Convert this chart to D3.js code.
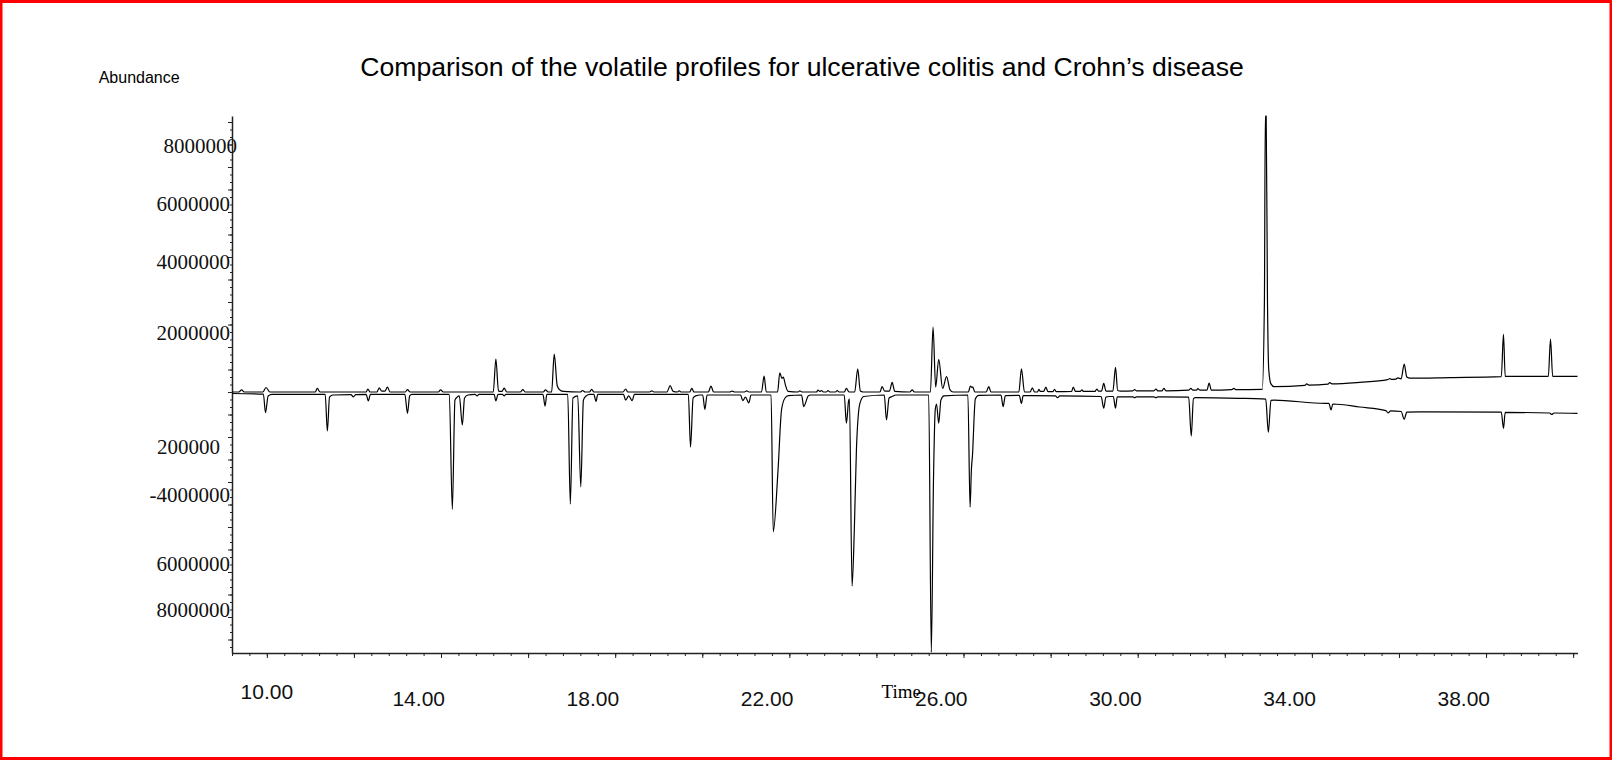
<!DOCTYPE html>
<html>
  <head>
    <meta charset="utf-8">
    <title>Volatile profiles: ulcerative colitis and Crohn's disease</title>
    <script src="https://d3js.org/d3.v7.min.js"></script>
    <style>
      body { margin: 0; background: #fff; }
      svg { display: block; }
      .trace { fill: none; stroke: #000; stroke-width: 1.2; stroke-linejoin: round; }
      .axis path, .axis line { stroke: #222; }
    </style>
  </head>
  <body>
    <div id="chart"></div>
    <script>
      // chromatogram vertices: [retention time (min), abundance]
      // upper trace = ulcerative colitis, lower (mirrored) trace = Crohn's disease
      const ucProfile = [
        [9.20, 0], [9.36, 0], [9.42, 70000], [9.48, 0],
        [9.91, 0], [9.98, 150000], [10.07, 0],
        [11.11, 0], [11.16, 120000], [11.22, 0],
        [12.28, 0], [12.32, 100000], [12.37, 0],
        [12.53, 0], [12.58, 140000], [12.64, 30000], [12.71, 30000], [12.77, 160000], [12.83, 0],
        [13.18, 0], [13.23, 80000], [13.29, 0],
        [13.94, 0], [13.99, 70000], [14.05, 0],
        [15.20, 0], [15.26, 1100000], [15.32, 30000], [15.40, 20000], [15.45, 130000], [15.51, 0],
        [15.82, 0], [15.88, 80000], [15.93, 0],
        [16.35, 0], [16.40, 70000], [16.46, 0],
        [16.54, 0], [16.60, 1260000], [16.67, 200000], [16.73, 70000], [16.82, 20000],
        [17.20, 0], [17.25, 50000], [17.31, 0],
        [17.41, 0], [17.46, 90000], [17.51, 0],
        [18.18, 0], [18.24, 100000], [18.29, 0],
        [18.79, 0], [18.84, 40000], [18.89, 0],
        [19.19, 0], [19.26, 210000], [19.33, 20000], [19.43, 0], [19.47, 40000], [19.51, 0],
        [19.71, 0], [19.76, 120000], [19.81, 0],
        [20.14, 0], [20.20, 200000], [20.26, 0],
        [20.63, 0], [20.69, 30000], [20.74, 0],
        [20.97, 0], [21.02, 40000], [21.07, 0],
        [21.36, 0], [21.42, 530000], [21.47, 0],
        [21.73, 0], [21.78, 640000], [21.83, 450000], [21.86, 500000], [21.91, 230000], [21.97, 20000],
        [22.20, 0], [22.24, 40000], [22.29, 0],
        [22.62, 0], [22.66, 60000], [22.70, 20000], [22.74, 50000], [22.78, 0],
        [22.85, 0], [22.89, 50000], [22.93, 0],
        [23.06, 0], [23.10, 50000], [23.14, 0],
        [23.26, 0], [23.31, 120000], [23.37, 0],
        [23.50, 0], [23.57, 770000], [23.63, 30000], [23.69, 0],
        [24.08, 0], [24.13, 180000], [24.19, 30000], [24.30, 30000], [24.36, 320000], [24.42, 20000],
        [24.77, 0], [24.82, 70000], [24.87, 0],
        [25.24, 0], [25.30, 2160000], [25.36, 160000], [25.43, 1090000], [25.52, 120000], [25.61, 510000], [25.69, 70000], [25.76, 0],
        [26.11, 0], [26.16, 200000], [26.19, 150000], [26.21, 170000], [26.26, 0],
        [26.52, 0], [26.58, 180000], [26.63, 0],
        [27.27, 0], [27.33, 770000], [27.40, 0],
        [27.53, 0], [27.58, 140000], [27.63, 0],
        [27.70, 0], [27.73, 90000], [27.76, 20000], [27.84, 20000], [27.89, 160000], [27.94, 10000],
        [28.05, 10000], [28.09, 90000], [28.13, 10000],
        [28.48, 20000], [28.52, 160000], [28.57, 20000], [28.68, 20000], [28.72, 70000], [28.75, 20000],
        [29.02, 20000], [29.06, 100000], [29.10, 30000], [29.17, 30000], [29.22, 290000], [29.27, 30000],
        [29.43, 30000], [29.49, 820000], [29.54, 50000], [29.61, 30000],
        [29.89, 40000], [29.93, 80000], [29.97, 40000],
        [30.37, 40000], [30.42, 100000], [30.46, 40000], [30.56, 40000], [30.60, 120000], [30.65, 40000],
        [31.17, 60000], [31.22, 120000], [31.27, 60000], [31.35, 60000], [31.38, 110000], [31.43, 60000],
        [31.59, 60000], [31.64, 300000], [31.69, 60000],
        [32.16, 80000], [32.21, 120000], [32.25, 80000],
        [32.86, 90000], [32.91, 3070000], [32.93, 9200000], [32.95, 9200000], [32.98, 3070000], [33.01, 730000], [33.06, 270000], [33.13, 180000],
        [33.84, 220000], [33.88, 270000], [33.93, 230000],
        [34.37, 260000], [34.41, 310000], [34.46, 270000],
        [35.10, 320000],
        [35.74, 410000], [35.79, 450000], [35.83, 420000], [35.93, 430000], [35.97, 470000],
        [36.05, 440000], [36.12, 930000], [36.18, 500000], [36.25, 460000],
        [37.17, 480000],
        [38.35, 510000], [38.40, 1920000], [38.44, 520000],
        [39.43, 520000], [39.48, 1760000], [39.53, 520000],
        [40.10, 520000]
      ];
      const cdProfile = [
        [9.20, -50000], [9.92, -70000], [9.97, -690000], [10.03, -130000], [10.12, -80000],
        [11.34, -80000], [11.39, -1300000], [11.44, -170000], [11.52, -100000],
        [11.93, -90000], [11.99, -160000], [12.04, -90000],
        [12.28, -80000], [12.33, -300000], [12.38, -80000],
        [13.17, -80000], [13.23, -710000], [13.28, -130000], [13.33, -80000],
        [14.19, -80000], [14.26, -3910000], [14.32, -270000], [14.37, -170000], [14.42, -130000], [14.49, -1100000], [14.54, -200000], [14.62, -100000],
        [14.78, -80000], [14.83, -130000], [14.87, -80000],
        [15.22, -80000], [15.26, -300000], [15.31, -80000],
        [15.41, -80000], [15.45, -130000], [15.49, -80000],
        [16.34, -80000], [16.39, -470000], [16.43, -80000],
        [16.91, -80000], [16.97, -3740000], [17.03, -200000], [17.14, -130000], [17.21, -3160000], [17.27, -270000], [17.33, -130000], [17.42, -80000],
        [17.51, -80000], [17.56, -310000], [17.60, -80000],
        [18.19, -80000], [18.24, -270000], [18.31, -130000], [18.39, -290000], [18.44, -80000],
        [19.68, -80000], [19.73, -1840000], [19.79, -200000], [19.85, -130000], [19.95, -100000],
        [20.01, -100000], [20.06, -580000], [20.11, -100000],
        [20.88, -100000], [20.93, -290000], [20.99, -170000], [21.07, -360000], [21.12, -100000],
        [21.58, -100000], [21.63, -4660000], [21.74, -2600000], [21.82, -600000], [21.90, -200000], [21.98, -120000],
        [22.28, -100000], [22.33, -490000], [22.38, -330000], [22.43, -130000], [22.49, -100000],
        [23.26, -100000], [23.31, -1040000], [23.36, -300000], [23.38, -230000], [23.44, -6470000], [23.49, -4700000], [23.54, -1930000], [23.62, -380000], [23.71, -150000],
        [24.18, -100000], [24.23, -930000], [24.29, -200000], [24.36, -150000], [24.45, -100000],
        [25.20, -100000], [25.26, -8670000], [25.31, -2930000], [25.35, -600000], [25.38, -400000], [25.43, -1040000], [25.48, -270000], [25.55, -130000],
        [26.10, -100000], [26.15, -3840000], [26.18, -2600000], [26.21, -2000000], [26.24, -930000], [26.27, -230000], [26.35, -110000],
        [26.86, -100000], [26.91, -490000], [26.96, -120000],
        [27.28, -110000], [27.33, -380000], [27.37, -120000],
        [28.11, -130000], [28.16, -190000], [28.21, -130000],
        [29.16, -150000], [29.22, -540000], [29.27, -170000], [29.35, -150000], [29.44, -150000], [29.49, -540000], [29.53, -160000],
        [29.89, -160000], [29.93, -190000], [29.97, -160000],
        [30.37, -160000], [30.42, -190000], [30.46, -160000],
        [31.17, -170000], [31.23, -1470000], [31.28, -220000], [31.33, -190000],
        [32.34, -210000], [32.85, -230000], [32.94, -240000], [33.00, -1340000], [33.06, -280000], [33.13, -270000],
        [34.30, -380000], [34.39, -380000], [34.44, -600000], [34.48, -400000],
        [35.10, -500000], [35.70, -620000], [35.75, -700000], [35.81, -630000],
        [36.05, -650000], [36.12, -910000], [36.18, -670000], [36.48, -660000],
        [38.35, -670000], [38.40, -1210000], [38.44, -680000],
        [39.46, -700000], [39.51, -750000], [39.56, -700000],
        [40.10, -710000]
      ];

      // axis labels as printed on the figure
      const xLabelTimes = [10, 14, 18, 22, 26, 30, 34, 38];
      const yLabelText = ["8000000", "6000000", "4000000", "2000000", "200000", "-4000000", "6000000", "8000000"];
      const yLabelAt = [8200000, 6270000, 4330000, 1980000, -1820000, -3430000, -5720000, -7250000];

      const width = 1612,
        height = 760;

      const svg = d3.select("#chart")
        .append("svg")
          .attr("width", width)
          .attr("height", height);

      // red frame round the figure
      svg.append("rect")
        .attr("x", 1)
        .attr("y", 1.5)
        .attr("width", width - 2)
        .attr("height", height - 3)
        .attr("fill", "none")
        .attr("stroke", "#ff0000")
        .attr("stroke-width", 3);

      // scales
      const x = d3.scaleLinear()
        .domain([9.2, 40.1])
        .range([232, 1577.5]);
      const y = d3.scaleLinear()
        .domain([-8700000, 9200000])
        .range([653, 116]);

      // x axis: minor ticks every 0.4 min, major every 2 min
      const xAxis = svg.append("g")
        .attr("class", "axis")
        .attr("transform", "translate(0," + y.range()[0] + ")");
      xAxis.append("g")
        .call(d3.axisBottom(x)
          .tickValues(d3.range(9.2, 40.05, 0.4))
          .tickSize(3)
          .tickSizeOuter(0)
          .tickFormat(""))
        .select(".domain")
          .attr("stroke-width", 1.6);
      xAxis.append("g")
        .call(d3.axisBottom(x)
          .tickValues(d3.range(10, 40.05, 2))
          .tickSize(5)
          .tickFormat(""))
        .select(".domain").remove();

      // x tick labels sit left of their ticks, the first one is raised
      svg.append("g")
        .selectAll("text")
          .data(xLabelTimes)
        .join("text")
          .attr("x", (d, i) => i === 0 ? x(d) : x(d) + 4)
          .attr("y", (d, i) => i === 0 ? 699 : 705.5)
          .attr("text-anchor", (d, i) => i === 0 ? "middle" : "end")
          .attr("font-family", "'Liberation Sans', Arial, sans-serif")
          .attr("font-size", 21)
          .attr("fill", "#111")
          .text(d3.format(".2f"));

      svg.append("text")
        .attr("x", 881.5)
        .attr("y", 698)
        .attr("font-family", "'Liberation Serif', 'Times New Roman', serif")
        .attr("font-size", 19)
        .text("Time");

      // y axis
      const yAxis = svg.append("g")
        .attr("class", "axis")
        .attr("transform", "translate(" + x.range()[0] + ",0)");
      yAxis.append("g")
        .call(d3.axisLeft(y)
          .tickValues(d3.range(-8500000, 9100000, 250000))
          .tickSize(2)
          .tickSizeOuter(0)
          .tickFormat(""))
        .select(".domain")
          .attr("stroke-width", 1.5);
      yAxis.append("g")
        .call(d3.axisLeft(y)
          .tickValues(d3.range(-8250000, 9100000, 750000))
          .tickSize(4)
          .tickFormat(""))
        .select(".domain").remove();

      // y labels: the top one runs into the axis, the short "200000" sits further left
      svg.append("g")
        .selectAll("text")
          .data(yLabelAt)
        .join("text")
          .attr("x", (d, i) => x.range()[0] + (i === 0 ? 5 : yLabelText[i].length < 7 ? -12 : -2))
          .attr("y", d => y(d))
          .attr("dy", "0.34em")
          .attr("text-anchor", "end")
          .attr("font-family", "'Liberation Serif', 'Times New Roman', serif")
          .attr("font-size", 21)
          .attr("fill", "#111")
          .text((d, i) => yLabelText[i]);

      svg.append("text")
        .attr("x", 98.7)
        .attr("y", 83)
        .attr("font-family", "'Liberation Sans', Arial, sans-serif")
        .attr("font-size", 16)
        .text("Abundance");

      // title
      svg.append("text")
        .attr("x", 802)
        .attr("y", 76)
        .attr("text-anchor", "middle")
        .attr("font-family", "'Liberation Sans', Arial, sans-serif")
        .attr("font-size", 26.6)
        .text("Comparison of the volatile profiles for ulcerative colitis and Crohn\u2019s disease");

      // the two chromatograms
      const line = d3.line()
        .x(d => x(d[0]))
        .y(d => y(d[1]))
        .curve(d3.curveMonotoneX);

      svg.append("g")
        .selectAll("path")
          .data([ucProfile, cdProfile])
        .join("path")
          .attr("class", "trace")
          .attr("d", line);
    </script>
  </body>
</html>
